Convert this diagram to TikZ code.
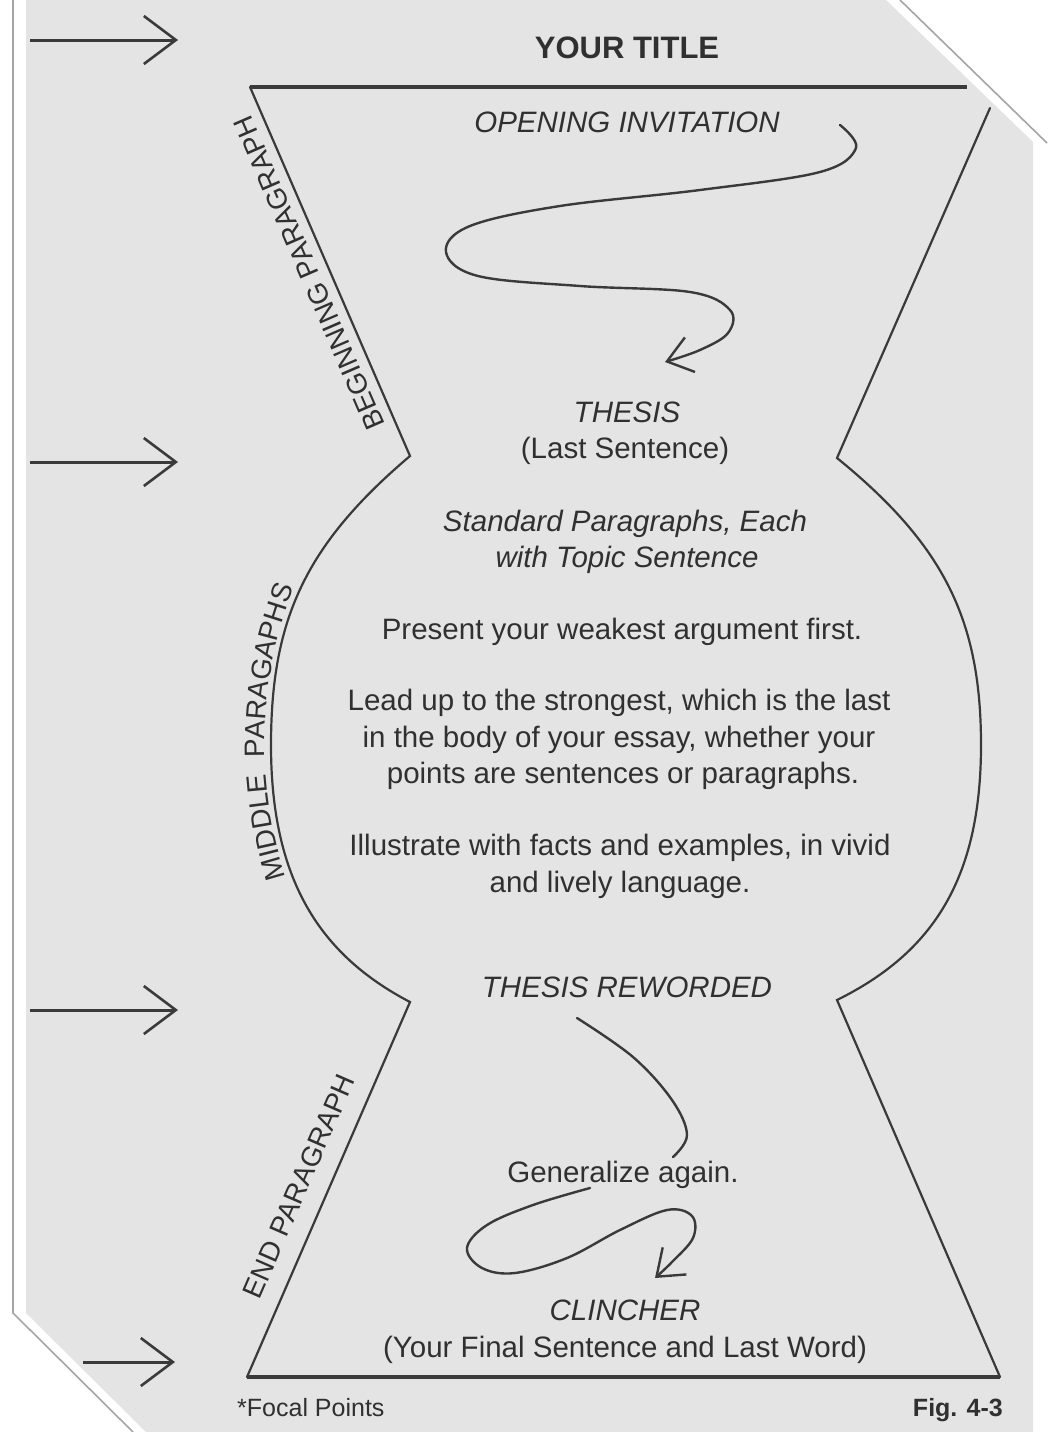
\documentclass[tikz,border=0pt]{standalone}
\usepackage{fontspec}
\setmainfont{Liberation Sans}
\usetikzlibrary{arrows.meta,decorations.text}
\definecolor{pagegray}{HTML}{E4E4E4}
\definecolor{ink}{HTML}{3A3A3A}
\definecolor{txt}{HTML}{303030}
\definecolor{edge}{HTML}{A5A5A5}
\begin{document}
\begin{tikzpicture}[x=1pt,y=-1pt,
  outline/.style={draw=ink, line width=2.2pt, line cap=round},
  rule/.style={draw=ink, line width=3.6pt},
  focal/.style={draw=ink, line width=3pt, -{Straight Barb[length=32pt,width=48pt,line width=2.6pt]}},
  curvy/.style={draw=ink, line width=2.4pt, line cap=round},
  curvyarrow/.style={curvy, -{Straight Barb[length=24pt,width=36pt,line width=2.4pt]}},
  body/.style={text=txt, font=\fontsize{29.5}{36}\selectfont, anchor=base, inner sep=0pt},
  ital/.style={text=txt, font=\fontsize{29.5}{36}\selectfont\itshape, anchor=base, inner sep=0pt},
  sidelabel/.style={text=txt, font=\fontsize{28}{28}\selectfont, inner sep=0pt},
  small/.style={text=txt, font=\fontsize{25}{25}\selectfont, inner sep=0pt},
]
\useasboundingbox (0,0) rectangle (1047,1432);
% page
\fill[white] (0,0) rectangle (1047,1432);
\fill[pagegray] (26,0) -- (886,0) -- (1033,142) -- (1033,1432) -- (146,1432) -- (26,1313) -- cycle;
\draw[edge, line width=1.6pt] (900,0) -- (1047,143);
\draw[edge, line width=1.6pt] (13,0) -- (13,1313) -- (133,1432);

% outline coordinates
\coordinate (tl) at (250,87);
\coordinate (tr) at (967,87);
\coordinate (rt) at (990,108);
\coordinate (ul) at (410,456);
\coordinate (ur) at (837,458);
\coordinate (ll) at (410,1002);
\coordinate (lr) at (837,1000);
\coordinate (bl) at (247,1377);
\coordinate (br) at (1000,1377);

\draw[rule] (tl) -- (tr);
\draw[rule] (bl) -- (br);
\draw[outline] (tl) -- (ul) .. controls (305,545) and (271,620) .. (271,745)
   .. controls (271,880) and (320,955) .. (ll) -- (bl);
\draw[outline] (rt) -- (ur) .. controls (944,545) and (981,620) .. (981,745)
   .. controls (981,880) and (932,953) .. (lr) -- (br);

% focal point arrows
\coordinate (f1s) at (30,40);   \coordinate (f1e) at (178,40);
\coordinate (f2s) at (30,462);  \coordinate (f2e) at (178,462);
\coordinate (f3s) at (30,1010); \coordinate (f3e) at (178,1010);
\coordinate (f4s) at (83,1362); \coordinate (f4e) at (175,1362);
\draw[focal] (f1s) -- (f1e);
\draw[focal] (f2s) -- (f2e);
\draw[focal] (f3s) -- (f3e);
\draw[focal] (f4s) -- (f4e);

% texts
\node[text=txt, font=\fontsize{31}{31}\selectfont\bfseries, anchor=base, inner sep=0pt] (title) at (627,58) {YOUR TITLE};
\node[ital] (oi) at (627,132) {OPENING INVITATION};
\node[ital] (th) at (627,422) {THESIS};
\node[body] (ls) at (625,458) {(Last Sentence)};
\node[ital] (sp1) at (625,531) {Standard Paragraphs, Each};
\node[ital] (sp2) at (627,567) {with Topic Sentence};
\node[body] (pr) at (622,639) {Present your weakest argument first.};
\node[body] (ld1) at (619,710) {Lead up to the strongest, which is the last};
\node[body] (ld2) at (619,747) {in the body of your essay, whether your};
\node[body] (ld3) at (623,783) {points are sentences or paragraphs.};
\node[body] (il1) at (620,855) {Illustrate with facts and examples, in vivid};
\node[body] (il2) at (620,892) {and lively language.};
\node[ital] (tr2) at (627,997) {THESIS REWORDED};
\node[body] (gen) at (623,1182) {Generalize again.};
\node[ital] (cl) at (625,1320) {CLINCHER};
\node[body] (fin) at (625,1357) {(Your Final Sentence and Last Word)};
\node[small, anchor=base west] (fp) at (237,1416) {*Focal Points};
\node[small, font=\fontsize{25}{25}\selectfont\bfseries, anchor=base east] (fig) at (1003,1416) {Fig. 4-3};

% side labels
\node[sidelabel, rotate=113.4] (beg) at (309,273) {BEGINNING PARAGRAPH};
\node[sidelabel, rotate=66.5] (endp) at (299,1186) {END PARAGRAPH};
\path[decorate, decoration={text along path, text align=center,
   text={|\fontsize{28}{28}\selectfont\color{txt}|MIDDLE{\ \ }PARAGAPHS}}]
   (291,893) .. controls (254,790) and (255,675) .. (301,572);

% curvy connectors
\coordinate (c1s) at (840,125);
\coordinate (c1e) at (665,362);
\draw[curvyarrow] plot[smooth, tension=0.6] coordinates {(c1s) (856,148) (820,172) (700,190) (560,206) (470,226) (446,252) (478,276) (580,286) (690,292) (730,310) (728,333) (700,350) (c1e)};
\coordinate (c2s) at (577,1018);
\coordinate (c2e) at (673,1157);
\draw[curvy] plot[smooth, tension=0.6] coordinates {(c2s) (633,1057) (672,1100) (687,1135) (c2e)};
\coordinate (c3s) at (590,1188);
\coordinate (c3e) at (655,1278);
\draw[curvyarrow] plot[smooth, tension=0.6] coordinates {(c3s) (533,1205) (487,1225) (467,1248) (482,1268) (515,1273) (567,1258) (620,1230) (667,1210) (692,1216) (693,1238) (672,1262) (c3e)};
\end{tikzpicture}
\end{document}
